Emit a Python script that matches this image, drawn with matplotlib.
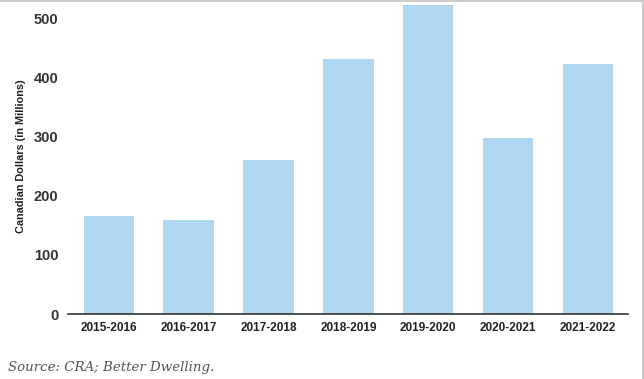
import matplotlib
matplotlib.use("Agg")
import matplotlib.pyplot as plt
from matplotlib.lines import Line2D

# valeurs (millions de dollars canadiens)
years = ["2015-2016", "2016-2017", "2017-2018", "2018-2019",
         "2019-2020", "2020-2021", "2021-2022"]
amounts = [166, 159, 261, 431, 524, 298, 424]
yticks = [0, 100, 200, 300, 400, 500]

plt.rcParams['font.family'] = ['Liberation Sans', 'DejaVu Sans']

fig = plt.figure(figsize=(6.44, 3.79), dpi=100)
ax = fig.add_axes([68/644, 1 - 314/379, (628 - 68)/644, 313/379])

ax.bar(range(len(years)), amounts, width=0.63, color="#b0d7f1")
ax.set_xlim(-0.51, 6.5)
ax.set_ylim(0, 530)

ax.set_xticks(range(len(years)))
ax.set_xticklabels(years, fontsize=8.5, fontweight='bold', color="#222222")
ax.set_yticks(yticks)
ax.set_yticklabels([str(v) for v in yticks], fontsize=10.5, fontweight='bold', color="#333333")
ax.tick_params(axis='both', length=0)
ax.tick_params(axis='x', pad=6)
ax.tick_params(axis='y', pad=7)

for s in ['top', 'right', 'left']:
    ax.spines[s].set_visible(False)
ax.spines['bottom'].set_color("#333333")
ax.spines['bottom'].set_linewidth(1.2)

ax.set_ylabel("Canadian Dollars (in Millions)", fontsize=7.8, fontweight='bold',
              color="#222222")
ax.yaxis.set_label_coords(-42/560, 0.505)

# bordure grise de la capture
fig.add_artist(Line2D([0, 1], [0.998, 0.998], color="#cccccc", lw=1.5,
                      transform=fig.transFigure))
fig.add_artist(Line2D([0.998, 0.998], [0, 1], color="#cccccc", lw=1.5,
                      transform=fig.transFigure))

fig.text(8/644, 1 - 368/379, "Source: CRA; Better Dwelling.", fontsize=9.6,
         style='italic', family=['DejaVu Serif'], color="#555555", va='center')

fig.savefig("out.png", dpi=100)
